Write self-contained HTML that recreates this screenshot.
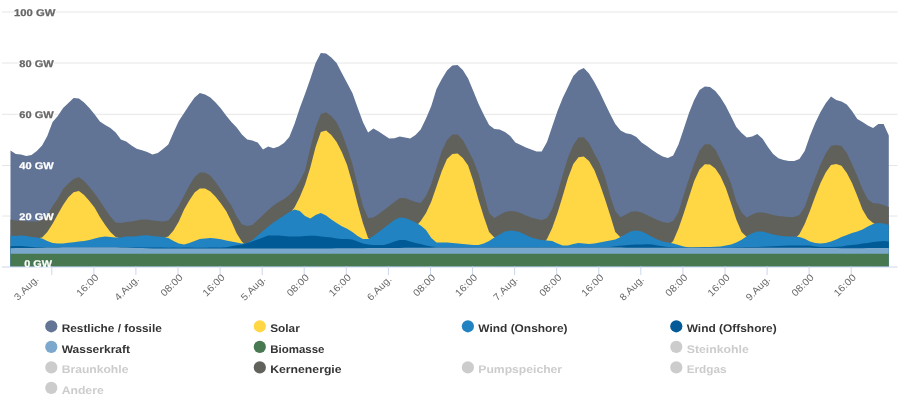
<!DOCTYPE html>
<html><head><meta charset="utf-8"><title>Chart</title>
<style>
html,body{margin:0;padding:0;background:#fff;overflow:hidden;}
svg{display:block;font-family:"Liberation Sans",sans-serif;text-rendering:geometricPrecision;}
.yl{font-size:9.7px;font-weight:bold;}
.xl{font-size:9.8px;fill:#666;}
.lg{font-size:11.1px;font-weight:bold;}
</style></head><body>
<svg width="900" height="408" viewBox="0 0 900 408">
<rect width="900" height="408" fill="#fff"/>
<line x1="2" x2="897.5" y1="12.0" y2="12.0" stroke="#e6e6e6" stroke-width="1"/>
<line x1="2" x2="897.5" y1="63.0" y2="63.0" stroke="#e6e6e6" stroke-width="1"/>
<line x1="2" x2="897.5" y1="114.3" y2="114.3" stroke="#e6e6e6" stroke-width="1"/>
<line x1="2" x2="897.5" y1="165.5" y2="165.5" stroke="#e6e6e6" stroke-width="1"/>
<line x1="2" x2="897.5" y1="216.0" y2="216.0" stroke="#e6e6e6" stroke-width="1"/>

<path d="M10.5,266.5L10.5,150.6L15.8,154.0L21.0,154.6L26.3,156.0L31.5,155.0L36.8,151.0L42.1,145.6L47.3,136.0L52.6,122.0L57.8,116.0L63.1,108.0L68.4,103.0L73.6,98.0L78.9,98.6L84.1,102.4L89.4,108.0L94.7,114.6L99.9,121.6L105.2,125.0L110.4,128.0L115.7,132.6L120.9,139.4L126.2,141.4L131.5,145.4L136.7,148.8L142.0,150.2L147.2,152.0L152.5,154.6L157.8,153.0L163.0,149.0L168.3,144.4L173.5,132.5L178.8,121.0L184.1,113.0L189.3,105.0L194.6,97.6L199.8,93.0L205.1,94.4L210.4,97.4L215.6,102.6L220.9,108.6L226.1,115.4L231.4,122.0L236.7,127.6L241.9,134.4L247.2,139.6L252.4,140.6L257.7,142.6L263.0,149.6L268.2,146.6L273.5,148.2L278.7,146.6L284.0,143.0L289.3,137.0L294.5,124.0L299.8,108.0L305.0,94.0L310.3,79.0L315.6,63.0L320.8,53.0L326.1,53.4L331.3,57.6L336.6,63.0L341.8,73.0L347.1,83.0L352.4,93.0L357.6,107.5L362.9,122.0L368.1,132.6L373.4,128.6L378.7,131.4L383.9,135.0L389.2,138.4L394.4,138.2L399.7,136.6L405.0,137.4L410.2,138.6L415.5,135.0L420.7,129.4L426.0,118.5L431.3,106.0L436.5,89.0L441.8,79.0L447.0,70.6L452.3,65.6L457.6,65.0L462.8,70.0L468.1,78.5L473.3,91.0L478.6,104.0L483.9,115.0L489.1,125.0L494.4,129.0L499.6,129.4L504.9,132.0L510.2,136.0L515.4,142.6L520.7,145.0L525.9,147.6L531.2,149.6L536.5,151.6L541.7,151.6L547.0,142.0L552.2,126.5L557.5,111.0L562.7,98.0L568.0,87.0L573.3,76.0L578.5,70.4L583.8,68.0L589.0,73.6L594.3,82.0L599.6,92.0L604.8,103.0L610.1,114.0L615.3,124.0L620.6,130.4L625.9,133.3L631.1,134.2L636.4,137.0L641.6,142.5L646.9,146.0L652.2,150.0L657.4,153.6L662.7,156.5L667.9,158.0L673.2,155.6L678.5,144.5L683.7,129.0L689.0,113.0L694.2,100.0L699.5,90.0L704.8,86.4L710.0,87.0L715.3,91.0L720.5,97.5L725.8,106.0L731.1,116.5L736.3,127.0L741.6,133.0L746.8,137.4L752.1,136.6L757.3,134.0L762.6,138.8L767.9,147.0L773.1,154.0L778.4,158.3L783.6,160.0L788.9,161.0L794.2,161.0L799.4,159.0L804.7,151.0L809.9,136.0L815.2,123.0L820.5,112.0L825.7,103.3L831.0,96.6L836.2,100.0L841.5,101.4L846.8,104.4L852.0,111.0L857.3,119.0L862.5,122.0L867.8,125.4L873.1,128.0L878.3,124.0L883.6,124.0L888.8,135.6L888.8,266.5 Z" fill="#617495"/>
<path d="M10.5,266.5L10.5,219.6L15.8,220.4L21.0,220.6L26.3,221.2L31.5,221.6L36.8,221.6L42.1,220.0L47.3,215.0L52.6,206.0L57.8,198.5L63.1,189.0L68.4,183.6L73.6,179.0L78.9,177.0L84.1,181.0L89.4,187.0L94.7,193.5L99.9,201.0L105.2,209.0L110.4,216.6L115.7,222.4L120.9,223.0L126.2,222.0L131.5,221.6L136.7,220.6L142.0,219.6L147.2,219.4L152.5,220.4L157.8,221.0L163.0,221.6L168.3,220.6L173.5,214.0L178.8,206.0L184.1,195.5L189.3,185.5L194.6,177.0L199.8,172.6L205.1,172.5L210.4,175.8L215.6,182.0L220.9,189.5L226.1,198.0L231.4,205.5L236.7,216.5L241.9,224.3L247.2,226.0L252.4,225.0L257.7,220.0L263.0,215.0L268.2,210.0L273.5,205.4L278.7,202.0L284.0,199.0L289.3,195.0L294.5,189.5L299.8,181.0L305.0,170.5L310.3,148.0L315.6,127.5L320.8,114.0L326.1,112.2L331.3,116.0L336.6,122.3L341.8,133.0L347.1,147.5L352.4,164.0L357.6,185.0L362.9,206.0L368.1,218.0L373.4,217.6L378.7,214.0L383.9,210.0L389.2,206.0L394.4,202.0L399.7,198.0L405.0,198.0L410.2,200.0L415.5,202.0L420.7,203.0L426.0,196.0L431.3,184.0L436.5,167.5L441.8,151.0L447.0,140.0L452.3,134.6L457.6,134.6L462.8,140.0L468.1,150.0L473.3,160.0L478.6,174.0L483.9,194.0L489.1,213.0L494.4,218.0L499.6,215.0L504.9,212.0L510.2,211.0L515.4,211.4L520.7,213.0L525.9,215.6L531.2,217.6L536.5,219.0L541.7,220.0L547.0,218.0L552.2,209.0L557.5,193.0L562.7,175.0L568.0,157.5L573.3,145.0L578.5,137.6L583.8,137.3L589.0,143.0L594.3,153.5L599.6,163.0L604.8,176.5L610.1,195.5L615.3,211.0L620.6,217.2L625.9,214.5L631.1,211.8L636.4,211.3L641.6,212.5L646.9,215.0L652.2,217.6L657.4,220.0L662.7,222.0L667.9,223.0L673.2,221.0L678.5,212.0L683.7,195.0L689.0,178.5L694.2,163.5L699.5,150.5L704.8,144.3L710.0,144.3L715.3,149.5L720.5,160.0L725.8,171.0L731.1,183.5L736.3,201.5L741.6,212.5L746.8,217.6L752.1,214.6L757.3,212.4L762.6,212.4L767.9,213.6L773.1,215.0L778.4,216.0L783.6,216.6L788.9,217.0L794.2,217.0L799.4,215.0L804.7,207.0L809.9,192.0L815.2,178.0L820.5,164.5L825.7,153.5L831.0,145.8L836.2,145.0L841.5,146.0L846.8,153.0L852.0,164.0L857.3,176.0L862.5,189.0L867.8,199.3L873.1,203.3L878.3,203.4L883.6,205.0L888.8,207.0L888.8,266.5 Z" fill="#61615c"/>
<path d="M39.4,266.5L39.4,238.0L42.1,237.6L47.3,232.0L52.6,223.7L57.8,214.3L63.1,205.0L68.4,197.3L73.6,192.3L78.9,191.0L84.1,195.0L89.4,201.0L94.7,207.8L99.9,217.0L105.2,225.0L110.4,232.0L115.7,237.0L118.3,237.5L118.3,266.5 Z" fill="#ffd643"/>
<path d="M165.1,266.5L165.1,237.4L168.3,236.5L173.5,230.5L178.8,221.5L184.1,209.5L189.3,200.5L194.6,192.4L199.8,188.6L205.1,188.4L210.4,191.5L215.6,196.7L220.9,203.5L226.1,211.0L231.4,221.5L236.7,233.5L241.9,241.7L244.0,243.4L244.0,266.5 Z" fill="#ffd643"/>
<path d="M291.9,266.5L291.9,210.8L294.5,207.5L299.8,197.0L305.0,184.5L310.3,167.5L315.6,147.0L320.8,132.0L326.1,130.5L331.3,135.0L336.6,142.0L341.8,152.0L347.1,165.0L352.4,183.5L357.6,204.0L362.9,223.0L368.1,238.0L369.2,238.4L369.2,266.5 Z" fill="#ffd643"/>
<path d="M418.1,266.5L418.1,224.0L420.7,221.0L426.0,213.0L431.3,201.5L436.5,186.5L441.8,171.0L447.0,159.0L452.3,154.0L457.6,153.6L462.8,158.0L468.1,165.5L473.3,181.0L478.6,200.0L483.9,217.0L489.1,232.0L494.4,237.6L495.4,237.0L495.4,266.5 Z" fill="#ffd643"/>
<path d="M545.9,266.5L545.9,240.3L547.0,239.0L552.2,228.0L557.5,213.0L562.7,196.0L568.0,178.0L573.3,164.0L578.5,157.3L583.8,156.6L589.0,161.0L594.3,170.0L599.6,183.5L604.8,198.5L610.1,215.0L615.3,232.0L620.6,237.6L622.2,236.1L622.2,266.5 Z" fill="#ffd643"/>
<path d="M671.1,266.5L671.1,243.0L673.2,241.0L678.5,228.5L683.7,213.5L689.0,197.0L694.2,181.0L699.5,169.5L704.8,164.3L710.0,164.5L715.3,168.5L720.5,176.3L725.8,188.0L731.1,203.5L736.3,219.5L741.6,232.0L746.8,237.0L748.4,235.4L748.4,266.5 Z" fill="#ffd643"/>
<path d="M796.8,266.5L796.8,236.8L799.4,234.2L804.7,224.0L809.9,211.0L815.2,196.5L820.5,183.0L825.7,172.5L831.0,165.0L836.2,164.0L841.5,165.7L846.8,173.0L852.0,183.0L857.3,196.0L862.5,209.5L867.8,218.6L873.1,223.0L874.6,223.7L874.6,266.5 Z" fill="#ffd643"/>
<path d="M10.5,266.5L10.5,235.6L15.8,236.0L21.0,235.4L26.3,236.0L31.5,237.0L36.8,237.6L42.1,238.4L47.3,241.0L52.6,243.0L57.8,243.6L63.1,243.4L68.4,242.8L73.6,242.2L78.9,241.6L84.1,241.0L89.4,240.0L94.7,238.4L99.9,237.2L105.2,236.6L110.4,237.0L115.7,237.6L120.9,237.4L126.2,236.6L131.5,236.6L136.7,236.2L142.0,235.6L147.2,235.2L152.5,236.0L157.8,236.6L163.0,237.0L168.3,238.0L173.5,241.0L178.8,243.5L184.1,244.4L189.3,243.0L194.6,241.0L199.8,239.0L205.1,238.4L210.4,238.0L215.6,238.4L220.9,239.2L226.1,240.4L231.4,241.6L236.7,242.6L241.9,243.6L247.2,243.0L252.4,240.0L257.7,235.6L263.0,231.0L268.2,226.4L273.5,222.4L278.7,219.0L284.0,215.6L289.3,212.0L294.5,209.6L299.8,211.0L305.0,216.0L310.3,218.6L315.6,215.0L320.8,213.0L326.1,215.6L331.3,219.5L336.6,223.0L341.8,226.2L347.1,228.7L352.4,232.0L357.6,236.0L362.9,239.0L368.1,239.0L373.4,236.0L378.7,232.0L383.9,228.0L389.2,224.0L394.4,220.0L399.7,217.4L405.0,218.0L410.2,220.0L415.5,222.4L420.7,225.6L426.0,230.0L431.3,238.0L436.5,242.4L441.8,242.6L447.0,242.6L452.3,243.0L457.6,243.4L462.8,244.0L468.1,244.4L473.3,245.0L478.6,245.0L483.9,243.6L489.1,241.0L494.4,237.6L499.6,234.4L504.9,231.6L510.2,230.6L515.4,231.0L520.7,232.4L525.9,235.0L531.2,237.4L536.5,239.0L541.7,240.0L547.0,240.4L552.2,241.0L557.5,243.6L562.7,245.6L568.0,245.6L573.3,244.0L578.5,243.0L583.8,243.6L589.0,244.0L594.3,243.6L599.6,242.4L604.8,241.6L610.1,240.6L615.3,239.6L620.6,237.0L625.9,234.0L631.1,231.3L636.4,230.5L641.6,231.6L646.9,234.0L652.2,237.0L657.4,239.6L662.7,241.4L667.9,242.4L673.2,243.4L678.5,245.0L683.7,246.6L689.0,247.4L694.2,247.4L699.5,247.2L704.8,247.0L710.0,247.0L715.3,246.8L720.5,246.4L725.8,245.6L731.1,244.4L736.3,242.5L741.6,239.7L746.8,236.3L752.1,233.3L757.3,231.5L762.6,231.6L767.9,233.0L773.1,234.4L778.4,235.5L783.6,236.2L788.9,236.5L794.2,236.5L799.4,237.0L804.7,238.8L809.9,241.5L815.2,243.0L820.5,243.6L825.7,243.0L831.0,241.4L836.2,239.4L841.5,237.0L846.8,235.0L852.0,233.0L857.3,231.4L862.5,229.4L867.8,226.6L873.1,224.0L878.3,223.0L883.6,223.4L888.8,225.0L888.8,266.5 Z" fill="#2183c2"/>
<path d="M10.5,266.5L10.5,246.2L15.8,246.1L21.0,246.0L26.3,246.5L31.5,247.0L36.8,247.1L42.1,247.2L47.3,247.2L52.6,247.0L57.8,247.0L63.1,247.0L68.4,247.0L73.6,247.0L78.9,247.0L84.1,247.0L89.4,247.0L94.7,247.0L99.9,247.0L105.2,247.0L110.4,247.0L115.7,247.0L120.9,247.0L126.2,247.0L131.5,247.2L136.7,247.4L142.0,247.4L147.2,247.5L152.5,247.6L157.8,247.6L163.0,247.6L168.3,247.7L173.5,247.6L178.8,247.7L184.1,247.6L189.3,247.4L194.6,247.7L199.8,247.8L205.1,247.7L210.4,247.6L215.6,247.6L220.9,247.5L226.1,247.2L231.4,246.3L236.7,245.3L241.9,244.4L247.2,243.0L252.4,241.4L257.7,239.4L263.0,237.4L268.2,235.6L273.5,235.4L278.7,235.6L284.0,236.0L289.3,236.4L294.5,236.6L299.8,236.4L305.0,236.0L310.3,235.8L315.6,235.8L320.8,236.4L326.1,237.0L331.3,237.6L336.6,238.4L341.8,239.0L347.1,239.0L352.4,239.6L357.6,241.6L362.9,243.6L368.1,244.4L373.4,245.0L378.7,245.0L383.9,245.0L389.2,243.6L394.4,241.6L399.7,240.0L405.0,240.0L410.2,241.4L415.5,243.0L420.7,244.0L426.0,245.4L431.3,246.4L436.5,247.0L441.8,246.9L447.0,246.9L452.3,246.9L457.6,246.9L462.8,246.9L468.1,246.9L473.3,246.9L478.6,246.9L483.9,246.9L489.1,246.9L494.4,246.9L499.6,246.9L504.9,246.9L510.2,246.9L515.4,246.9L520.7,246.9L525.9,246.9L531.2,246.9L536.5,246.9L541.7,246.9L547.0,247.0L552.2,247.0L557.5,247.0L562.7,247.0L568.0,247.0L573.3,247.0L578.5,247.0L583.8,247.0L589.0,247.0L594.3,247.0L599.6,247.0L604.8,247.0L610.1,247.0L615.3,246.3L620.6,245.8L625.9,245.2L631.1,244.8L636.4,244.6L641.6,244.4L646.9,244.2L652.2,244.6L657.4,245.6L662.7,246.2L667.9,246.9L673.2,247.2L678.5,247.5L683.7,247.6L689.0,247.6L694.2,247.6L699.5,247.6L704.8,247.6L710.0,247.6L715.3,247.6L720.5,247.6L725.8,247.6L731.1,247.4L736.3,247.3L741.6,247.2L746.8,247.0L752.1,247.0L757.3,247.0L762.6,246.8L767.9,246.4L773.1,246.2L778.4,246.0L783.6,245.7L788.9,245.4L794.2,245.4L799.4,245.4L804.7,245.6L809.9,245.6L815.2,246.4L820.5,247.0L825.7,247.0L831.0,247.0L836.2,246.8L841.5,246.4L846.8,245.6L852.0,245.0L857.3,244.4L862.5,243.6L867.8,243.0L873.1,242.0L878.3,241.6L883.6,241.0L888.8,241.6L888.8,266.5 Z" fill="#005a96"/>
<path d="M10.5,266.5L10.5,248.2L15.8,248.1L21.0,248.0L26.3,247.9L31.5,247.9L36.8,247.8L42.1,247.7L47.3,247.6L52.6,247.5L57.8,247.4L63.1,247.3L68.4,247.3L73.6,247.3L78.9,247.3L84.1,247.3L89.4,247.3L94.7,247.3L99.9,247.3L105.2,247.3L110.4,247.3L115.7,247.3L120.9,247.5L126.2,247.6L131.5,247.8L136.7,248.0L142.0,248.1L147.2,248.3L152.5,248.4L157.8,248.4L163.0,248.4L168.3,248.5L173.5,248.6L178.8,248.6L184.1,248.6L189.3,248.6L194.6,248.6L199.8,248.6L205.1,248.6L210.4,248.6L215.6,248.6L220.9,248.6L226.1,248.6L231.4,248.6L236.7,248.6L241.9,248.6L247.2,248.6L252.4,248.6L257.7,248.6L263.0,248.6L268.2,248.6L273.5,248.6L278.7,248.6L284.0,248.6L289.3,248.5L294.5,248.5L299.8,248.5L305.0,248.5L310.3,248.4L315.6,248.4L320.8,248.4L326.1,248.4L331.3,248.4L336.6,248.3L341.8,248.3L347.1,248.3L352.4,248.3L357.6,248.2L362.9,248.2L368.1,248.1L373.4,248.1L378.7,248.1L383.9,248.0L389.2,248.0L394.4,247.9L399.7,247.9L405.0,247.8L410.2,247.8L415.5,247.8L420.7,247.7L426.0,247.7L431.3,247.7L436.5,247.6L441.8,247.6L447.0,247.5L452.3,247.5L457.6,247.5L462.8,247.5L468.1,247.5L473.3,247.5L478.6,247.5L483.9,247.5L489.1,247.5L494.4,247.5L499.6,247.5L504.9,247.5L510.2,247.5L515.4,247.5L520.7,247.5L525.9,247.5L531.2,247.5L536.5,247.5L541.7,247.5L547.0,247.5L552.2,247.5L557.5,247.5L562.7,247.5L568.0,247.5L573.3,247.5L578.5,247.5L583.8,247.5L589.0,247.5L594.3,247.5L599.6,247.5L604.8,247.5L610.1,247.5L615.3,247.6L620.6,247.6L625.9,247.7L631.1,247.7L636.4,247.8L641.6,247.8L646.9,247.8L652.2,247.8L657.4,247.8L662.7,247.8L667.9,247.8L673.2,247.8L678.5,247.8L683.7,247.8L689.0,247.8L694.2,247.8L699.5,247.8L704.8,247.8L710.0,247.8L715.3,247.8L720.5,247.8L725.8,247.8L731.1,247.8L736.3,247.8L741.6,247.8L746.8,247.8L752.1,247.8L757.3,247.8L762.6,247.8L767.9,247.8L773.1,247.8L778.4,247.7L783.6,247.7L788.9,247.7L794.2,247.7L799.4,247.7L804.7,247.8L809.9,247.8L815.2,247.9L820.5,247.9L825.7,248.0L831.0,248.1L836.2,248.1L841.5,248.2L846.8,248.2L852.0,248.2L857.3,248.2L862.5,248.2L867.8,248.1L873.1,248.1L878.3,248.1L883.6,248.1L888.8,248.1L888.8,266.5 Z" fill="#7aa8cc"/>
<path d="M10.5,266.5L10.5,253.8L15.8,253.8L21.0,253.8L26.3,253.8L31.5,253.8L36.8,253.8L42.1,253.8L47.3,253.8L52.6,253.8L57.8,253.8L63.1,253.8L68.4,253.8L73.6,253.8L78.9,253.8L84.1,253.8L89.4,253.8L94.7,253.8L99.9,253.8L105.2,253.8L110.4,253.8L115.7,253.8L120.9,253.8L126.2,253.8L131.5,253.8L136.7,253.8L142.0,253.8L147.2,253.8L152.5,253.8L157.8,253.8L163.0,253.8L168.3,253.8L173.5,253.8L178.8,253.8L184.1,253.8L189.3,253.8L194.6,253.8L199.8,253.8L205.1,253.8L210.4,253.8L215.6,253.8L220.9,253.8L226.1,253.8L231.4,253.8L236.7,253.8L241.9,253.8L247.2,253.8L252.4,253.8L257.7,253.8L263.0,253.8L268.2,253.8L273.5,253.8L278.7,253.8L284.0,253.8L289.3,253.8L294.5,253.8L299.8,253.8L305.0,253.8L310.3,253.8L315.6,253.8L320.8,253.8L326.1,253.8L331.3,253.8L336.6,253.8L341.8,253.8L347.1,253.8L352.4,253.8L357.6,253.8L362.9,253.8L368.1,253.8L373.4,253.8L378.7,253.8L383.9,253.8L389.2,253.8L394.4,253.8L399.7,253.8L405.0,253.8L410.2,253.8L415.5,253.8L420.7,253.8L426.0,253.8L431.3,253.8L436.5,253.8L441.8,253.8L447.0,253.8L452.3,253.8L457.6,253.8L462.8,253.8L468.1,253.8L473.3,253.8L478.6,253.8L483.9,253.8L489.1,253.8L494.4,253.8L499.6,253.8L504.9,253.8L510.2,253.8L515.4,253.8L520.7,253.8L525.9,253.8L531.2,253.8L536.5,253.8L541.7,253.8L547.0,253.8L552.2,253.8L557.5,253.8L562.7,253.8L568.0,253.8L573.3,253.8L578.5,253.8L583.8,253.8L589.0,253.8L594.3,253.8L599.6,253.8L604.8,253.8L610.1,253.8L615.3,253.8L620.6,253.8L625.9,253.8L631.1,253.8L636.4,253.8L641.6,253.8L646.9,253.8L652.2,253.8L657.4,253.8L662.7,253.8L667.9,253.8L673.2,253.8L678.5,253.8L683.7,253.8L689.0,253.8L694.2,253.8L699.5,253.8L704.8,253.8L710.0,253.8L715.3,253.8L720.5,253.8L725.8,253.8L731.1,253.8L736.3,253.8L741.6,253.8L746.8,253.8L752.1,253.8L757.3,253.8L762.6,253.8L767.9,253.8L773.1,253.8L778.4,253.8L783.6,253.8L788.9,253.8L794.2,253.8L799.4,253.8L804.7,253.8L809.9,253.8L815.2,253.8L820.5,253.8L825.7,253.8L831.0,253.8L836.2,253.8L841.5,253.8L846.8,253.8L852.0,253.8L857.3,253.8L862.5,253.8L867.8,253.8L873.1,253.8L878.3,253.8L883.6,253.8L888.8,253.8L888.8,266.5 Z" fill="#477850"/>
<line x1="2" x2="897.5" y1="267" y2="267" stroke="#ccd6eb" stroke-width="1"/>

<line x1="51.8" x2="51.8" y1="266.5" y2="275" stroke="#ccd6eb" stroke-width="1"/>
<line x1="93.9" x2="93.9" y1="266.5" y2="275" stroke="#ccd6eb" stroke-width="1"/>
<line x1="135.9" x2="135.9" y1="266.5" y2="275" stroke="#ccd6eb" stroke-width="1"/>
<line x1="178.0" x2="178.0" y1="266.5" y2="275" stroke="#ccd6eb" stroke-width="1"/>
<line x1="220.1" x2="220.1" y1="266.5" y2="275" stroke="#ccd6eb" stroke-width="1"/>
<line x1="262.2" x2="262.2" y1="266.5" y2="275" stroke="#ccd6eb" stroke-width="1"/>
<line x1="304.2" x2="304.2" y1="266.5" y2="275" stroke="#ccd6eb" stroke-width="1"/>
<line x1="346.3" x2="346.3" y1="266.5" y2="275" stroke="#ccd6eb" stroke-width="1"/>
<line x1="388.4" x2="388.4" y1="266.5" y2="275" stroke="#ccd6eb" stroke-width="1"/>
<line x1="430.5" x2="430.5" y1="266.5" y2="275" stroke="#ccd6eb" stroke-width="1"/>
<line x1="472.5" x2="472.5" y1="266.5" y2="275" stroke="#ccd6eb" stroke-width="1"/>
<line x1="514.6" x2="514.6" y1="266.5" y2="275" stroke="#ccd6eb" stroke-width="1"/>
<line x1="556.7" x2="556.7" y1="266.5" y2="275" stroke="#ccd6eb" stroke-width="1"/>
<line x1="598.8" x2="598.8" y1="266.5" y2="275" stroke="#ccd6eb" stroke-width="1"/>
<line x1="640.8" x2="640.8" y1="266.5" y2="275" stroke="#ccd6eb" stroke-width="1"/>
<line x1="682.9" x2="682.9" y1="266.5" y2="275" stroke="#ccd6eb" stroke-width="1"/>
<line x1="725.0" x2="725.0" y1="266.5" y2="275" stroke="#ccd6eb" stroke-width="1"/>
<line x1="767.1" x2="767.1" y1="266.5" y2="275" stroke="#ccd6eb" stroke-width="1"/>
<line x1="809.1" x2="809.1" y1="266.5" y2="275" stroke="#ccd6eb" stroke-width="1"/>
<line x1="851.2" x2="851.2" y1="266.5" y2="275" stroke="#ccd6eb" stroke-width="1"/>

<g style="opacity:0.995">
<text x="14.0" y="16.1" textLength="41.3" lengthAdjust="spacingAndGlyphs" class="yl" fill="none" stroke="#fff" stroke-width="2.2" stroke-linejoin="round">100 GW</text>
<text x="14.0" y="16.1" textLength="41.3" lengthAdjust="spacingAndGlyphs" class="yl" fill="#666" stroke="#666" stroke-width="0.25">100 GW</text>
<text x="19.3" y="67.1" textLength="34.4" lengthAdjust="spacingAndGlyphs" class="yl" fill="none" stroke="#fff" stroke-width="2.2" stroke-linejoin="round">80 GW</text>
<text x="19.3" y="67.1" textLength="34.4" lengthAdjust="spacingAndGlyphs" class="yl" fill="#666" stroke="#666" stroke-width="0.25">80 GW</text>
<text x="19.3" y="118.1" textLength="34.4" lengthAdjust="spacingAndGlyphs" class="yl" fill="none" stroke="#fff" stroke-width="2.2" stroke-linejoin="round">60 GW</text>
<text x="19.3" y="118.1" textLength="34.4" lengthAdjust="spacingAndGlyphs" class="yl" fill="#666" stroke="#666" stroke-width="0.25">60 GW</text>
<text x="19.3" y="169.1" textLength="34.4" lengthAdjust="spacingAndGlyphs" class="yl" fill="#fff" stroke="#fff" stroke-width="0.25">40 GW</text>
<text x="19.3" y="220.1" textLength="34.4" lengthAdjust="spacingAndGlyphs" class="yl" fill="#fff" stroke="#fff" stroke-width="0.25">20 GW</text>
<text x="24.3" y="266.8" textLength="27.7" lengthAdjust="spacingAndGlyphs" class="yl" fill="#fff" stroke="#fff" stroke-width="0.25">0 GW</text>

<text transform="translate(39.3,279.7) rotate(-45)" text-anchor="end" textLength="30.0" lengthAdjust="spacingAndGlyphs" class="xl">3.Aug.</text>
<text transform="translate(99.3,278.0) rotate(-45)" text-anchor="end" textLength="26.8" lengthAdjust="spacingAndGlyphs" class="xl">16:00</text>
<text transform="translate(139.7,280.0) rotate(-45)" text-anchor="end" textLength="30.0" lengthAdjust="spacingAndGlyphs" class="xl">4.Aug.</text>
<text transform="translate(183.4,278.0) rotate(-45)" text-anchor="end" textLength="26.8" lengthAdjust="spacingAndGlyphs" class="xl">08:00</text>
<text transform="translate(225.5,278.0) rotate(-45)" text-anchor="end" textLength="26.8" lengthAdjust="spacingAndGlyphs" class="xl">16:00</text>
<text transform="translate(266.0,280.0) rotate(-45)" text-anchor="end" textLength="30.0" lengthAdjust="spacingAndGlyphs" class="xl">5.Aug.</text>
<text transform="translate(309.6,278.0) rotate(-45)" text-anchor="end" textLength="26.8" lengthAdjust="spacingAndGlyphs" class="xl">08:00</text>
<text transform="translate(351.7,278.0) rotate(-45)" text-anchor="end" textLength="26.8" lengthAdjust="spacingAndGlyphs" class="xl">16:00</text>
<text transform="translate(392.2,280.0) rotate(-45)" text-anchor="end" textLength="30.0" lengthAdjust="spacingAndGlyphs" class="xl">6.Aug.</text>
<text transform="translate(435.9,278.0) rotate(-45)" text-anchor="end" textLength="26.8" lengthAdjust="spacingAndGlyphs" class="xl">08:00</text>
<text transform="translate(477.9,278.0) rotate(-45)" text-anchor="end" textLength="26.8" lengthAdjust="spacingAndGlyphs" class="xl">16:00</text>
<text transform="translate(518.4,280.0) rotate(-45)" text-anchor="end" textLength="30.0" lengthAdjust="spacingAndGlyphs" class="xl">7.Aug.</text>
<text transform="translate(562.1,278.0) rotate(-45)" text-anchor="end" textLength="26.8" lengthAdjust="spacingAndGlyphs" class="xl">08:00</text>
<text transform="translate(604.2,278.0) rotate(-45)" text-anchor="end" textLength="26.8" lengthAdjust="spacingAndGlyphs" class="xl">16:00</text>
<text transform="translate(644.6,280.0) rotate(-45)" text-anchor="end" textLength="30.0" lengthAdjust="spacingAndGlyphs" class="xl">8.Aug.</text>
<text transform="translate(688.3,278.0) rotate(-45)" text-anchor="end" textLength="26.8" lengthAdjust="spacingAndGlyphs" class="xl">08:00</text>
<text transform="translate(730.4,278.0) rotate(-45)" text-anchor="end" textLength="26.8" lengthAdjust="spacingAndGlyphs" class="xl">16:00</text>
<text transform="translate(770.9,280.0) rotate(-45)" text-anchor="end" textLength="30.0" lengthAdjust="spacingAndGlyphs" class="xl">9.Aug.</text>
<text transform="translate(814.5,278.0) rotate(-45)" text-anchor="end" textLength="26.8" lengthAdjust="spacingAndGlyphs" class="xl">08:00</text>
<text transform="translate(856.6,278.0) rotate(-45)" text-anchor="end" textLength="26.8" lengthAdjust="spacingAndGlyphs" class="xl">16:00</text>

<circle cx="51.3" cy="326.3" r="6.1" fill="#617495"/><text x="61.7" y="332.1" textLength="100.1" lengthAdjust="spacingAndGlyphs" class="lg" fill="#333">Restliche / fossile</text>
<circle cx="259.8" cy="326.3" r="6.1" fill="#ffd643"/><text x="270.2" y="332.1" textLength="29.6" lengthAdjust="spacingAndGlyphs" class="lg" fill="#333">Solar</text>
<circle cx="467.9" cy="326.3" r="6.1" fill="#2183c2"/><text x="478.3" y="332.1" textLength="89.3" lengthAdjust="spacingAndGlyphs" class="lg" fill="#333">Wind (Onshore)</text>
<circle cx="676.3" cy="326.3" r="6.1" fill="#005a96"/><text x="686.7" y="332.1" textLength="90.0" lengthAdjust="spacingAndGlyphs" class="lg" fill="#333">Wind (Offshore)</text>
<circle cx="51.3" cy="346.9" r="6.1" fill="#7aa8cc"/><text x="61.7" y="352.7" textLength="68.3" lengthAdjust="spacingAndGlyphs" class="lg" fill="#333">Wasserkraft</text>
<circle cx="259.8" cy="346.9" r="6.1" fill="#477850"/><text x="270.2" y="352.7" textLength="54.3" lengthAdjust="spacingAndGlyphs" class="lg" fill="#333">Biomasse</text>
<circle cx="676.3" cy="346.9" r="6.1" fill="#ccc"/><text x="686.7" y="352.7" textLength="62.2" lengthAdjust="spacingAndGlyphs" class="lg" fill="#ccc">Steinkohle</text>
<circle cx="51.3" cy="367.4" r="6.1" fill="#ccc"/><text x="61.7" y="373.2" textLength="66.7" lengthAdjust="spacingAndGlyphs" class="lg" fill="#ccc">Braunkohle</text>
<circle cx="259.8" cy="367.4" r="6.1" fill="#61615c"/><text x="270.2" y="373.2" textLength="71.4" lengthAdjust="spacingAndGlyphs" class="lg" fill="#333">Kernenergie</text>
<circle cx="467.9" cy="367.4" r="6.1" fill="#ccc"/><text x="478.3" y="373.2" textLength="83.8" lengthAdjust="spacingAndGlyphs" class="lg" fill="#ccc">Pumpspeicher</text>
<circle cx="676.3" cy="367.4" r="6.1" fill="#ccc"/><text x="686.7" y="373.2" textLength="39.9" lengthAdjust="spacingAndGlyphs" class="lg" fill="#ccc">Erdgas</text>
<circle cx="51.3" cy="387.9" r="6.1" fill="#ccc"/><text x="61.7" y="393.7" textLength="42.0" lengthAdjust="spacingAndGlyphs" class="lg" fill="#ccc">Andere</text>

</g>
</svg>
</body></html>
